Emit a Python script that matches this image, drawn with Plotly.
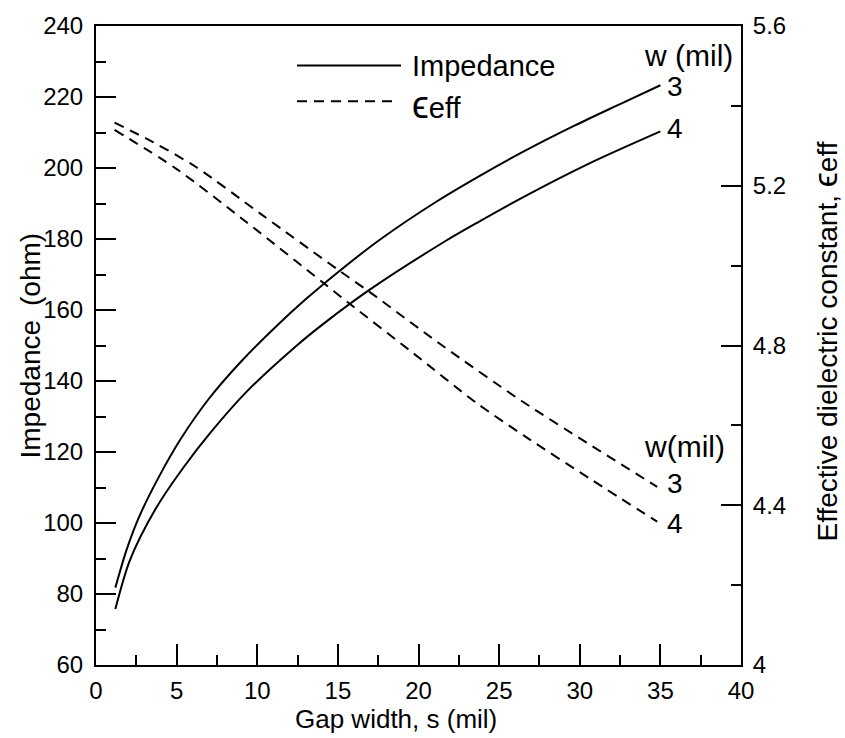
import plotly.graph_objects as go

# ---- data ----
s_z3 = [1.2, 1.9, 2.7, 3.9, 5.3, 7.0, 9.0, 11.2, 13.0, 15.1, 17.6, 21.1, 23.8, 26.5, 29.7, 32.5, 35.0]
z_w3 = [81.8, 92.5, 102.0, 113.0, 124.0, 135.0, 145.5, 155.5, 163.0, 171.0, 179.8, 190.5, 197.8, 204.6, 212.0, 218.0, 223.3]

s_z4 = [1.2, 2.1, 3.7, 5.4, 7.2, 9.3, 12.4, 14.1, 17.0, 21.7, 23.6, 26.5, 30.6, 35.0]
z_w4 = [75.8, 89.5, 104.0, 115.5, 126.0, 136.8, 149.8, 156.1, 165.8, 179.5, 184.5, 191.8, 201.3, 210.3]

s_e3 = [1.15, 3.5, 6.2, 10.3, 15.1, 17.0, 21.3, 26.4, 30.5, 34.8]
e_w3 = [5.358, 5.310, 5.247, 5.127, 4.987, 4.933, 4.805, 4.661, 4.555, 4.446]

s_e4 = [1.15, 4.96, 9.3, 14.06, 15.75, 19.7, 23.6, 26.7, 30.8, 34.8]
e_w4 = [5.340, 5.243, 5.110, 4.958, 4.904, 4.780, 4.656, 4.570, 4.462, 4.359]

EPS_LEG = "<span style='font-size:38px'>\u03f5</span>"
EPS_TTL = "<span style='font-size:34px'>\u03f5</span>"
legend_labels = ["Impedance", EPS_LEG + "eff"]

FONT = "Liberation Sans, Arial, sans-serif"
W, H = 845, 738
L, R, T, B = 96, 741, 19, 665


def pxx(x):
    return (x - L) / (R - L)


def pxy(y):
    return (B - y) / (B - T)


fig = go.Figure()
solid = dict(color="black", width=2, shape="spline", smoothing=0.8)
dashed = dict(color="black", width=2, dash="10px,7px", shape="spline", smoothing=0.8)
fig.add_trace(go.Scatter(x=s_z3, y=z_w3, mode="lines", line=solid, showlegend=False, name="Z w=3"))
fig.add_trace(go.Scatter(x=s_z4, y=z_w4, mode="lines", line=solid, showlegend=False, name="Z w=4"))
fig.add_trace(go.Scatter(x=s_e3, y=e_w3, mode="lines", yaxis="y2", line=dashed,
                         showlegend=False, name="eps w=3"))
fig.add_trace(go.Scatter(x=s_e4, y=e_w4, mode="lines", yaxis="y2", line=dashed,
                         showlegend=False, name="eps w=4"))

tickfont = dict(family=FONT, size=24, color="black")
common = dict(showline=True, linewidth=2, linecolor="black", showgrid=False, zeroline=False,
              ticks="inside", tickwidth=2, tickcolor="black", tickfont=tickfont)
minor_style = dict(ticks="inside", tickwidth=2, tickcolor="black")

fig.update_layout(
    width=W, height=H,
    margin=dict(l=L, r=W - R, t=T, b=H - B, pad=0),
    paper_bgcolor="white", plot_bgcolor="white",
    xaxis=dict(range=[0, 40], dtick=5, tick0=0, ticklen=21, mirror=True, ticklabelstandoff=3,
               minor=dict(dtick=2.5, ticklen=10, **minor_style), **common),
    yaxis=dict(range=[60, 240], dtick=20, tick0=60, ticklen=20, ticklabelstandoff=6,
               minor=dict(dtick=10, ticklen=10, **minor_style), **common),
    yaxis2=dict(range=[4, 5.6], dtick=0.4, tick0=4, ticklen=20, overlaying="y", side="right",
                ticklabelstandoff=5,
                minor=dict(dtick=0.2, ticklen=10, **minor_style), **common),
)

# legend drawn manually
fig.add_shape(type="line", xref="paper", yref="paper", x0=pxx(297), x1=pxx(401), y0=pxy(59), y1=pxy(59),
              line=dict(color="black", width=2))
fig.add_shape(type="line", xref="paper", yref="paper", x0=pxx(297), x1=pxx(392), y0=pxy(95), y1=pxy(95),
              line=dict(color="black", width=2, dash="10px,7px"))

annotations = [
    (legend_labels[0], 411, 59, 29),
    (legend_labels[1], 411, 99, 29),
    ("w (mil)", 643, 49, 30),
    ("3", 666, 80, 28),
    ("4", 666, 123, 28),
    ("w(mil)", 643, 444, 30),
    ("3", 666, 482, 28),
    ("4", 666, 522, 28),
]
for text, x, y, size in annotations:
    fig.add_annotation(text=text, xref="paper", yref="paper", x=pxx(x), y=pxy(y),
                       xanchor="left", yanchor="middle", showarrow=False, borderpad=0,
                       font=dict(family=FONT, size=size, color="black"))

# axis titles
fig.add_annotation(text="Gap width, s (mil)", xref="paper", yref="paper", x=pxx(396), y=pxy(720),
                   xanchor="center", yanchor="middle", showarrow=False, borderpad=0,
                   font=dict(family=FONT, size=26, color="black"))
fig.add_annotation(text="Impedance\u2002(ohm)", xref="paper", yref="paper", x=pxx(30), y=pxy(342),
                   xanchor="center", yanchor="middle", showarrow=False, textangle=-90,
                   font=dict(family=FONT, size=28, color="black"))
fig.add_annotation(text="Effective dielectric constant, " + EPS_TTL + "eff", xref="paper", yref="paper",
                   x=pxx(825), y=pxy(338), xanchor="center", yanchor="middle", showarrow=False,
                   textangle=-90, borderpad=0, font=dict(family=FONT, size=28, color="black"))

fig.write_html("out.html")
